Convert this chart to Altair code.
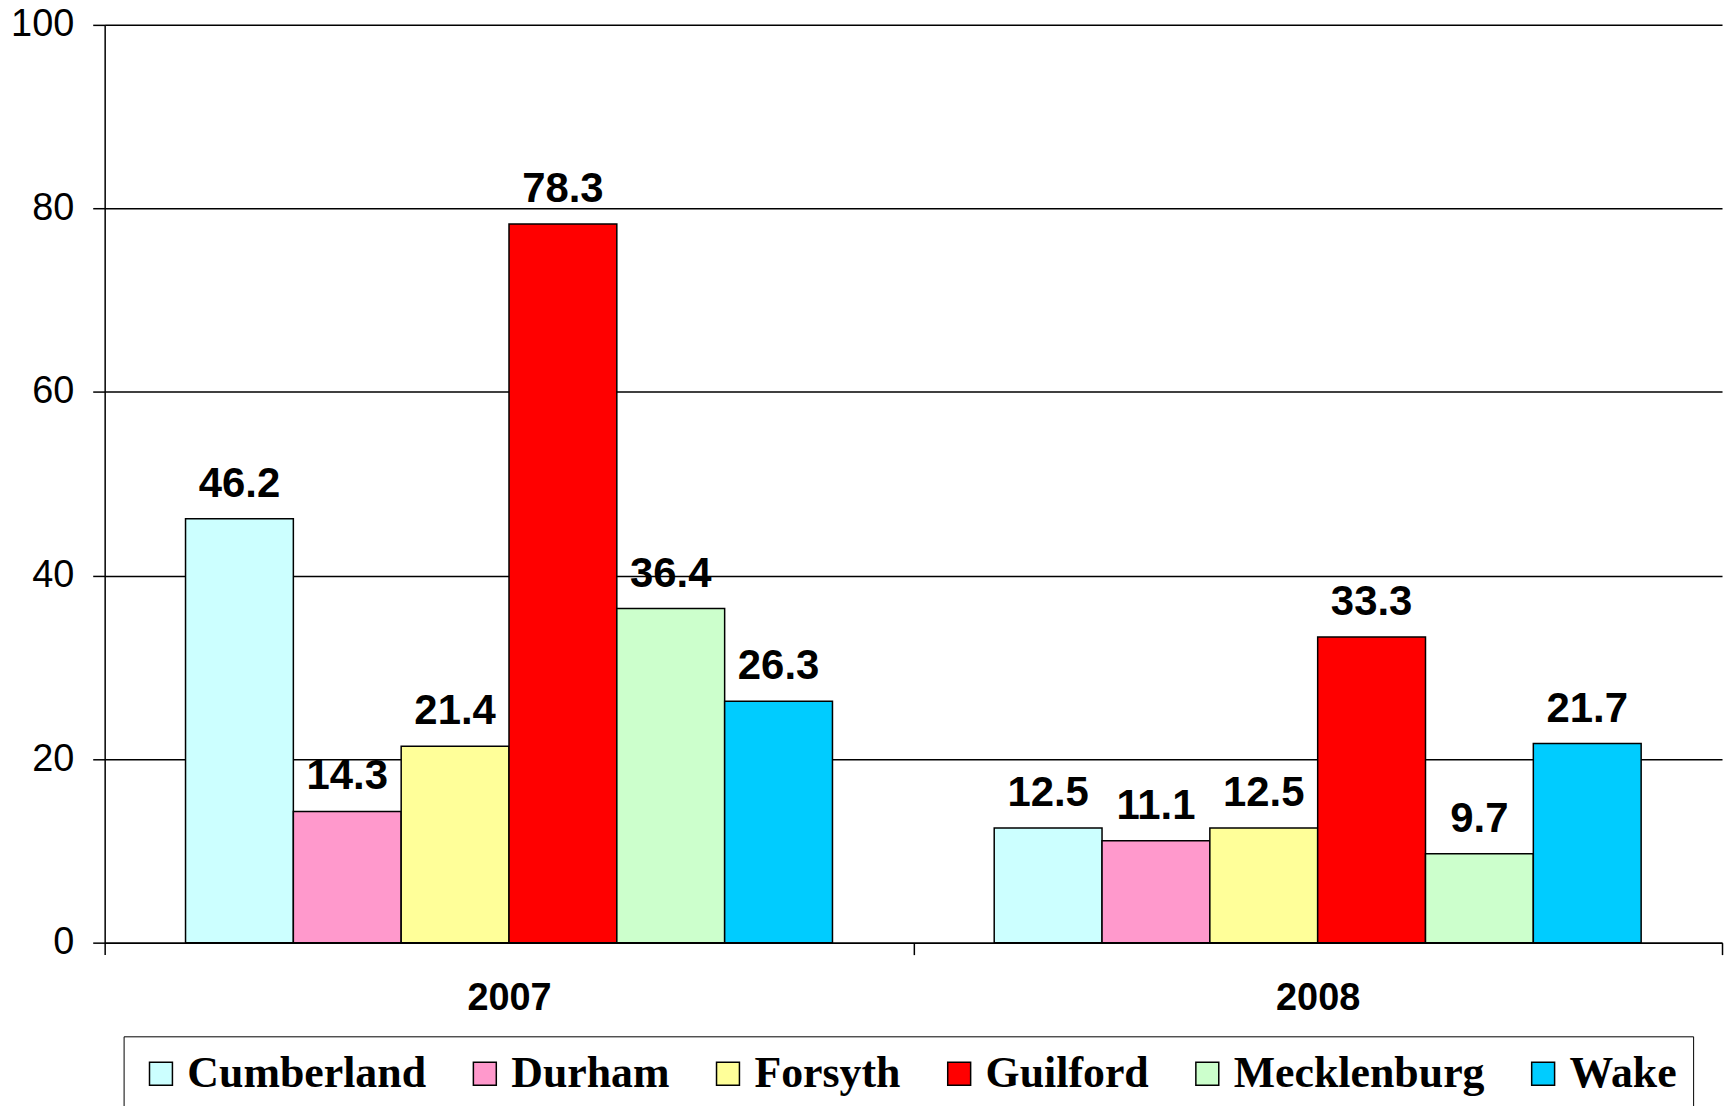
import altair as alt
import pandas as pd

years = ["2007", "2008"]
counties = ["Cumberland", "Durham", "Forsyth", "Guilford", "Mecklenburg", "Wake"]
v2007 = [46.2, 14.3, 21.4, 78.3, 36.4, 26.3]
v2008 = [12.5, 11.1, 12.5, 33.3, 9.7, 21.7]
colors = ["#CCFFFF", "#FF99CC", "#FFFF99", "#FF0000", "#CCFFCC", "#00CCFF"]
y_ticks = [0, 20, 40, 60, 80, 100]

rows = []
for yr, vals in zip(years, [v2007, v2008]):
    for c, v in zip(counties, vals):
        rows.append({"year": yr, "county": c, "value": v})
df = pd.DataFrame(rows)

x = alt.X(
    "year:N",
    scale=alt.Scale(paddingInner=0, paddingOuter=0),
    axis=alt.Axis(
        title=None, labelAngle=0, tickBand="extent", grid=False,
        labelFont="Liberation Sans", labelFontWeight="bold", labelFontSize=38,
        labelColor="black", domainColor="black", domainWidth=1.5,
        tickColor="black", tickSize=12, tickWidth=1.5, labelPadding=25,
    ),
)
xo = alt.XOffset(
    "county:N", sort=counties,
    scale=alt.Scale(domain=counties, paddingInner=0, paddingOuter=0.75),
)
y = alt.Y(
    "value:Q",
    scale=alt.Scale(domain=[0, 100]),
    axis=alt.Axis(
        values=y_ticks, title=None, grid=True, gridColor="black", gridWidth=1.5,
        labelFont="Liberation Sans", labelFontSize=38, labelColor="black",
        domainColor="black", domainWidth=1.5, tickColor="black", tickWidth=1.5,
        tickSize=12, labelPadding=19,
    ),
)
color = alt.Color(
    "county:N", sort=counties,
    scale=alt.Scale(domain=counties, range=colors),
    legend=alt.Legend(
        title=None, orient="none", legendX=19, legendY=1015,
        direction="horizontal", columns=6, gridAlign="each",
        labelFont="Liberation Serif", labelFontWeight="bold", labelFontSize=44,
        labelColor="black", labelOffset=4.5, labelLimit=400, columnPadding=36,
        symbolType="square", symbolSize=529, symbolStrokeColor="black",
        symbolStrokeWidth=1.5, strokeColor="black", padding=15.5,
    ),
)

bars = alt.Chart(df).mark_bar(stroke="black", strokeWidth=1.5).encode(
    x=x, xOffset=xo, y=y, color=color
)
labels = alt.Chart(df).mark_text(
    dy=-22, baseline="alphabetic", font="Liberation Sans", fontWeight="bold",
    fontSize=42, color="black",
).encode(x=x, xOffset=xo, y=y, text=alt.Text("value:Q", format=".1f"))

chart = (
    alt.layer(bars, labels)
    .properties(
        width=1623, height=921,
        autosize=alt.AutoSizeParams(type="none"),
        padding={"left": 97, "top": 15, "right": 5, "bottom": 162},
        background="white",
    )
    .configure_view(stroke=None)
)

chart.save("out.html", embed_options={"renderer": "svg", "actions": False})
